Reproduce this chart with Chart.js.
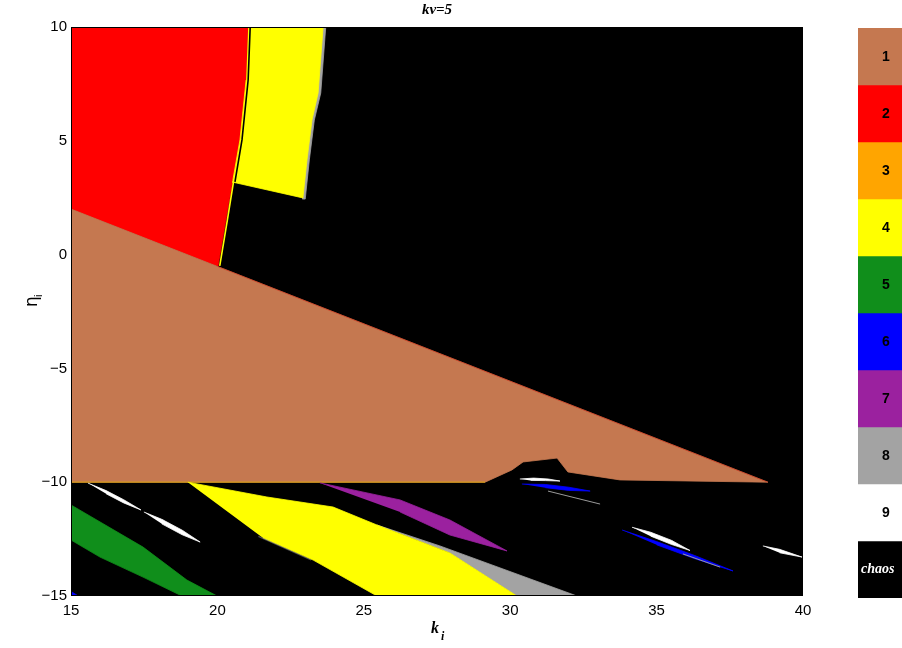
<!DOCTYPE html>
<html>
<head>
<meta charset="utf-8">
<script src="https://cdn.jsdelivr.net/npm/chart.js@4/dist/chart.umd.min.js"></script>
<style>
  html,body{margin:0;padding:0;background:#fff;}
  #wrap{position:relative;width:902px;height:648px;}
  #main{position:absolute;left:0;top:0;}
  #cbar{position:absolute;left:858px;top:28px;}
</style>
</head>
<body>
<div id="wrap">
<canvas id="main" width="902" height="648"></canvas>
<canvas id="cbar" width="44" height="570"></canvas>
</div>
<script>
// ---------- axis / tick data ----------
const xRange = [15, 40];
const yRange = [-15, 10];
const xTicks = [15, 20, 25, 30, 35, 40];
const yTicks = [-15, -10, -5, 0, 5, 10];

// ---------- class labels / colours ----------
const classLabels = ['1','2','3','4','5','6','7','8','9','chaos'];
const classColors = ['#C57850','#FF0000','#FFA500','#FFFF00','#108E1B','#0000FF','#9B219F','#A3A3A3','#FFFFFF','#000000'];

// ---------- region boundaries (k_i, eta_i) ----------
const chaosArea   = [[15,10],[40,10],[40,-15],[15,-15]];
const region2Red  = [[15,10],[21.05,10],[20.98,7.67],[20.77,5.04],[20.53,3.28],[20.29,1.52],[20.02,-0.52],[15,2]];
const region8GrayUpper = [[21.2,10],[23.7,10],[23.53,7.1],[23.31,5.91],[23.14,4.16],[23.0,2.44],[22.9,2.44]];
const region4YellowUpper = [[21.05,10],[23.61,10],[23.44,7.1],[23.23,5.91],[23.06,4.16],[22.92,2.49],[20.5,3.19],[20.53,3.28],[20.77,5.04],[20.98,7.67]];
const region1Brown = [[15,2],[38.8,-10],[33.75,-9.9],[31.97,-9.55],[31.6,-8.94],[30.44,-9.11],[30.06,-9.46],[29.14,-10],[15,-10]];
const region5Green = [[15,-11],[17.46,-12.85],[18.96,-14.3],[19.99,-15],[18.79,-15],[17.46,-14.17],[15.99,-13.29],[15,-12.54]];
const region4YellowLower = [[18.99,-10],[21.69,-10.65],[23.95,-11.09],[25.45,-11.88],[27.94,-13.11],[30.23,-15],[25.45,-15],[23.27,-13.42],[21.56,-12.45]];
const region8GrayLower = [[25.45,-11.88],[27.6,-12.8],[32.28,-15],[30.23,-15],[27.94,-13.11]];
const region7Purple = [[23.5,-10.03],[26.24,-10.78],[27.94,-11.66],[29.89,-13.02],[27.94,-12.32],[26.24,-11.31]];
const region6BlueCorner = [[15,-14.8],[15.25,-15],[15,-15]];
const region9WhiteA = [[15.58,-10.04],[16.2,-10.37],[16.8,-10.77],[17.39,-11.22],[16.8,-10.91],[16.2,-10.51]];
const region9WhiteB = [[17.49,-11.31],[18.1,-11.63],[18.8,-12.11],[19.41,-12.63],[18.8,-12.31],[18.1,-11.83]];
const region9WhiteC = [[30.33,-9.86],[30.8,-9.82],[31.3,-9.86],[31.7,-9.95],[31.2,-9.93],[30.7,-9.92]];
const region6BlueA = [[30.4,-10.08],[31.2,-10.1],[32,-10.22],[32.73,-10.39],[32,-10.36],[31.2,-10.24]];
const region9WhiteD = [[34.16,-11.98],[34.8,-12.2],[35.5,-12.55],[36.14,-13.0],[35.5,-12.73],[34.8,-12.37]];
const region6BlueB = [[33.82,-12.1],[35,-12.61],[36.3,-13.22],[37.61,-13.9],[36.3,-13.36],[35,-12.75]];
const region9WhiteE = [[38.63,-12.8],[39.2,-12.95],[39.97,-13.29],[39.2,-13.1]];
// thin boundary lines
const lineBlackRY = [[21.12,10],[21.05,7.67],[20.84,5.04],[20.6,3.2]];
const lineYellowRB = [[20.55,3.2],[20.34,1.52],[20.08,-0.5]];
const lineOrangeBase = [[15,-10],[29.14,-10]];
const lineRedDiag = [[20.0,-0.52],[38.8,-10]];
const lineGrayA = [[31.29,-10.39],[33.07,-10.96]];
const lineGrayB = [[35.9,-13.15],[37.17,-13.73]];
const lineGrayYellowEdge = [[21.4,-12.38],[23.2,-13.42]];

const toPts = a => a.map(p => ({x:p[0], y:p[1]}));

function poly(data, color){
  return {data: toPts(data), backgroundColor: color, borderColor: color, borderWidth: 0.8,
          fill: 'shape', pointRadius: 0, tension: 0, showLine: true};
}
function lineDs(data, color, w){
  return {data: toPts(data), borderColor: color, backgroundColor: color, borderWidth: w,
          fill: false, pointRadius: 0, tension: 0, showLine: true};
}

// back-to-front
const layers = [
  poly(chaosArea, classColors[9]),
  poly(region2Red, classColors[1]),
  poly(region8GrayUpper, classColors[7]),
  poly(region4YellowUpper, classColors[3]),
  lineDs(lineBlackRY, '#000', 1.6),
  lineDs(lineYellowRB, '#FFFF00', 1.6),
  poly(region1Brown, classColors[0]),
  lineDs(lineRedDiag, 'rgba(230,40,20,0.6)', 0.8),
  lineDs(lineOrangeBase, 'rgba(215,160,20,0.9)', 1.2),
  poly(region5Green, classColors[4]),
  poly(region8GrayLower, classColors[7]),
  poly(region4YellowLower, classColors[3]),
  lineDs(lineGrayYellowEdge, 'rgba(160,160,160,0.5)', 1.2),
  poly(region7Purple, classColors[6]),
  poly(region6BlueCorner, classColors[5]),
  poly(region9WhiteA, classColors[8]),
  poly(region9WhiteB, classColors[8]),
  poly(region9WhiteC, classColors[8]),
  poly(region6BlueA, classColors[5]),
  lineDs(lineGrayA, '#9a9a9a', 1),
  poly(region6BlueB, classColors[5]),
  poly(region9WhiteD, classColors[8]),
  lineDs(lineGrayB, '#9a9a9a', 1),
  poly(region9WhiteE, classColors[8])
];
layers.forEach((d, i) => { d.order = layers.length - i; });

const fmt = v => (v < 0 ? '\u2212' + Math.abs(v) : String(v));

const decor = {
  id: 'decor',
  afterDraw(chart){
    const ctx = chart.ctx, a = chart.chartArea;
    ctx.save();
    ctx.strokeStyle = '#000'; ctx.lineWidth = 1;
    ctx.strokeRect(a.left + 0.5, a.top + 0.5, a.right - a.left - 1, a.bottom - a.top - 1);
    // title
    ctx.fillStyle = '#000';
    ctx.font = 'italic bold 15px "Liberation Serif"';
    ctx.textAlign = 'center'; ctx.textBaseline = 'middle';
    ctx.fillText('kv=5', 437, 10);
    // x label
    ctx.font = 'italic bold 16px "Liberation Serif"';
    ctx.textAlign = 'left';
    ctx.fillText('k', 431, 629);
    ctx.font = 'italic bold 12px "Liberation Serif"';
    ctx.fillText('i', 441, 637);
    // y label
    ctx.translate(33, 300);
    ctx.rotate(-Math.PI/2);
    ctx.font = '17px "DejaVu Sans"';
    ctx.textAlign = 'left';
    ctx.fillText('\u03B7', -7, 0);
    ctx.font = '11px "Liberation Sans"';
    ctx.fillText('i', 3, 6);
    ctx.restore();
  }
};

new Chart(document.getElementById('main'), {
  type: 'line',
  data: {datasets: layers},
  options: {
    responsive: false, animation: false, events: [],
    layout: {padding: {left: 0, top: 27, right: 99, bottom: 0}},
    plugins: {legend: {display: false}, tooltip: {enabled: false}},
    scales: {
      x: {
        type: 'linear', min: xRange[0], max: xRange[1],
        afterFit: s => { s.height = 52; },
        afterBuildTicks: s => { s.ticks = xTicks.map(v => ({value: v})); },
        grid: {display: false, drawTicks: false},
        border: {display: false},
        ticks: {color: '#000', font: {family: '"Liberation Sans"', size: 15}, padding: 6,
                maxRotation: 0, callback: v => fmt(v)}
      },
      y: {
        type: 'linear', min: yRange[0], max: yRange[1],
        afterFit: s => { s.width = 71; },
        afterBuildTicks: s => { s.ticks = yTicks.map(v => ({value: v})); },
        grid: {display: false, drawTicks: false},
        border: {display: false},
        ticks: {color: '#000', font: {family: '"Liberation Sans"', size: 15}, padding: 4,
                callback: v => fmt(v)}
      }
    }
  },
  plugins: [decor]
});

// ---------- colour bar ----------
const cbarValues = [1,1,1,1,1,1,1,1,1,1];
const cbarLabelsPlugin = {
  id: 'cbarLabels',
  afterDatasetsDraw(chart){
    const ctx = chart.ctx;
    ctx.save();
    chart.data.datasets.forEach((ds, i) => {
      const el = chart.getDatasetMeta(i).data[0];
      const cy = (el.y + el.base) / 2;
      ctx.textBaseline = 'middle';
      if (classLabels[i] === 'chaos') {
        ctx.fillStyle = '#fff';
        ctx.font = 'italic bold 14px "Liberation Serif"';
        ctx.textAlign = 'left';
        ctx.fillText('chaos', 3, cy);
      } else {
        ctx.fillStyle = '#000';
        ctx.font = 'bold 14px "Liberation Sans"';
        ctx.textAlign = 'center';
        ctx.fillText(classLabels[i], 28, cy + 1);
      }
    });
    ctx.restore();
  }
};
new Chart(document.getElementById('cbar'), {
  type: 'bar',
  data: {
    labels: [''],
    datasets: classLabels.map((l, i) => ({
      label: l, data: [cbarValues[i]], backgroundColor: classColors[i],
      borderWidth: 0, barPercentage: 1, categoryPercentage: 1
    }))
  },
  options: {
    responsive: false, animation: false, events: [],
    layout: {padding: 0},
    plugins: {legend: {display: false}, tooltip: {enabled: false}},
    scales: {
      x: {display: false, stacked: true},
      y: {display: false, stacked: true, min: 0, max: 10, reverse: true}
    }
  },
  plugins: [cbarLabelsPlugin]
});
</script>
</body>
</html>
